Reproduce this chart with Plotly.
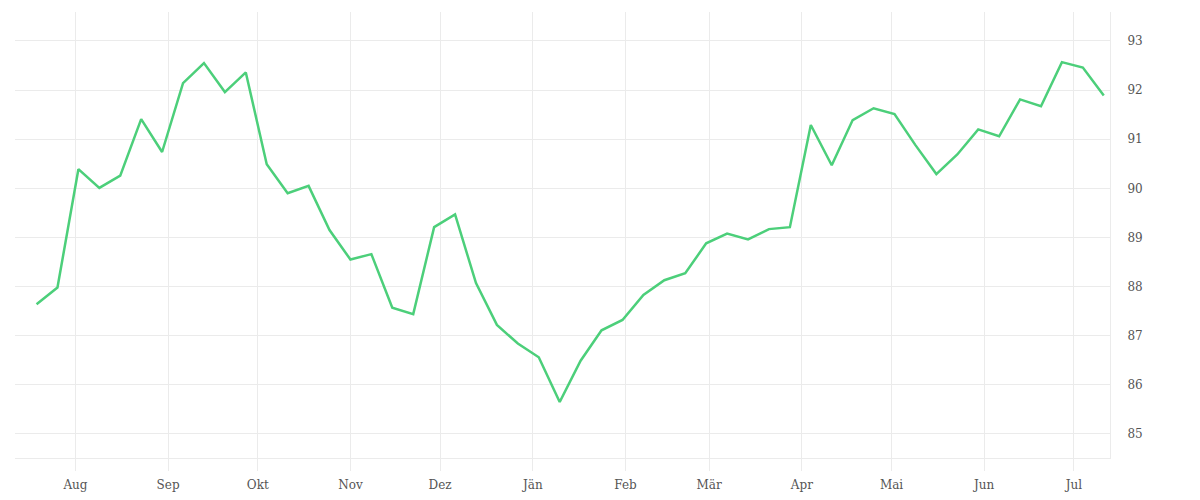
import plotly.graph_objects as go

# weekly values, Jul 2021 - Jul 2022
dates = [
    "2021-07-19", "2021-07-26", "2021-08-02", "2021-08-09", "2021-08-16", "2021-08-23",
    "2021-08-30", "2021-09-06", "2021-09-13", "2021-09-20", "2021-09-27", "2021-10-04",
    "2021-10-11", "2021-10-18", "2021-10-25", "2021-11-01", "2021-11-08", "2021-11-15",
    "2021-11-22", "2021-11-29", "2021-12-06", "2021-12-13", "2021-12-20", "2021-12-27",
    "2022-01-03", "2022-01-10", "2022-01-17", "2022-01-24", "2022-01-31", "2022-02-07",
    "2022-02-14", "2022-02-21", "2022-02-28", "2022-03-07", "2022-03-14", "2022-03-21",
    "2022-03-28", "2022-04-04", "2022-04-11", "2022-04-18", "2022-04-25", "2022-05-02",
    "2022-05-09", "2022-05-16", "2022-05-23", "2022-05-30", "2022-06-06", "2022-06-13",
    "2022-06-20", "2022-06-27", "2022-07-04", "2022-07-11",
]
values = [
    87.64, 87.98, 90.39, 90.01, 90.26, 91.41, 90.74, 92.14, 92.55, 91.96, 92.36, 90.49,
    89.90, 90.05, 89.15, 88.55, 88.66, 87.57, 87.44, 89.21, 89.47, 88.07, 87.22, 86.84,
    86.56, 85.65, 86.49, 87.11, 87.32, 87.83, 88.13, 88.27, 88.88, 89.08, 88.96, 89.17,
    89.21, 91.29, 90.47, 91.39, 91.63, 91.51, 90.88, 90.29, 90.69, 91.20, 91.06, 91.81,
    91.67, 92.57, 92.46, 91.89,
]

month_ticks = [
    "2021-08-01", "2021-09-01", "2021-10-01", "2021-11-01", "2021-12-01", "2022-01-01",
    "2022-02-01", "2022-03-01", "2022-04-01", "2022-05-01", "2022-06-01", "2022-07-01",
]
month_labels = ["Aug", "Sep", "Okt", "Nov", "Dez", "Jän", "Feb", "Mär", "Apr", "Mai", "Jun", "Jul"]

GRID = "#ebebeb"

fig = go.Figure(go.Scatter(
    x=dates, y=values, mode="lines",
    line=dict(color="#4ccf7a", width=2.5),
    hoverinfo="x+y",
))

fig.update_xaxes(
    range=["2021-07-11 19:00", "2022-07-13 02:00"],
    tickvals=month_ticks, ticktext=month_labels,
    showgrid=True, gridcolor=GRID, gridwidth=1,
    showline=True, linecolor=GRID, linewidth=1,
    ticks="outside", ticklen=12, tickcolor=GRID,
    ticklabelstandoff=4, automargin=False,
    tickfont=dict(family="DejaVu Serif", size=12, color="#555"),
    zeroline=False,
)
fig.update_yaxes(
    side="right", range=[84.51, 93.59],
    tickvals=[85, 86, 87, 88, 89, 90, 91, 92, 93],
    showgrid=True, gridcolor=GRID, gridwidth=1,
    showline=True, linecolor=GRID, linewidth=1,
    ticklabelstandoff=14, automargin=False,
    tickfont=dict(family="DejaVu Serif", size=12, color="#555"),
    zeroline=False,
)
# page body adds an 8px margin, so the figure is a bit smaller than the window
fig.update_layout(
    width=1184, height=484,
    plot_bgcolor="white", paper_bgcolor="white",
    margin=dict(l=7, r=82, t=4, b=34),
    showlegend=False,
)

fig.write_html("out.html")
